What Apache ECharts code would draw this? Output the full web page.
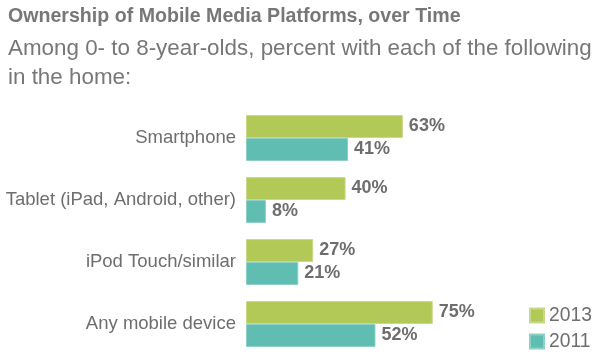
<!DOCTYPE html>
<html><head><meta charset="utf-8">
<script src="https://cdn.jsdelivr.net/npm/echarts@6/dist/echarts.min.js"></script>
<style>html,body{margin:0;padding:0;background:#fff}#c{width:600px;height:363px}</style>
</head><body><div id="c"></div>
<script>
var categories = ["Smartphone", "Tablet (iPad, Android, other)", "iPod Touch/similar", "Any mobile device"];
var values2013 = [63, 40, 27, 75];
var values2011 = [41, 8, 21, 52];
var seriesNames = ["2013", "2011"];

var chart = echarts.init(document.getElementById('c'));
var FONT = '"Liberation Sans", Arial, Helvetica, sans-serif';
var labelStyle = {show: true, position: 'right', distance: 6, formatter: '{c}%', color: '#6e6e6e', fontWeight: 'bold', fontSize: 18, fontFamily: FONT};
chart.setOption({
  animation: false,
  textStyle: {fontFamily: FONT},
  title: [
    {text: 'Ownership of Mobile Media Platforms, over Time', left: 3, top: 2,
     textStyle: {fontSize: 19.6, fontWeight: 'bold', color: '#777777', fontFamily: FONT}},
    {text: 'Among 0- to 8-year-olds, percent with each of the following\nin the home:', left: 3, top: 29,
     textStyle: {fontSize: 22.4, fontWeight: 'normal', color: '#777777', lineHeight: 29, fontFamily: FONT}}
  ],
  legend: {orient: 'vertical', left: 524, top: 301, itemWidth: 14, itemHeight: 14, itemGap: 7,
    icon: 'rect', textStyle: {fontSize: 19.3, color: '#6e6e6e', fontFamily: FONT}, data: seriesNames},
  grid: {left: 246, top: 107, width: 249, height: 248, containLabel: false},
  xAxis: {type: 'value', min: 0, max: 100, show: false},
  yAxis: {type: 'category', data: categories, inverse: true,
    axisLine: {show: false}, axisTick: {show: false},
    axisLabel: {fontSize: 18.5, color: '#6e6e6e', margin: 10, fontFamily: FONT}},
  series: [
    {name: seriesNames[0], type: 'bar', data: values2013, barCategoryGap: '26%', barGap: '0%',
     itemStyle: {color: '#b3c957', borderColor: '#c9d98a', borderWidth: 1}, label: labelStyle},
    {name: seriesNames[1], type: 'bar', data: values2011, barCategoryGap: '26%', barGap: '0%',
     itemStyle: {color: '#5fbdb1', borderColor: '#8fd0c6', borderWidth: 1}, label: labelStyle}
  ]
});
</script></body></html>
